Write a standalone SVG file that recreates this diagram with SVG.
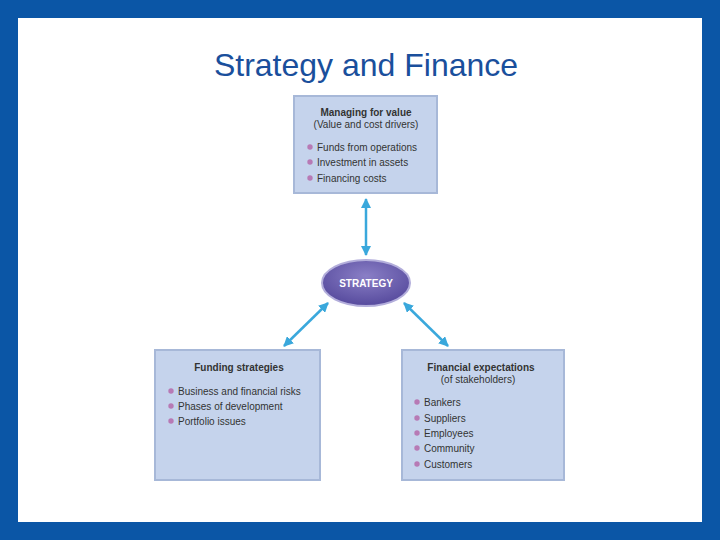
<svg xmlns="http://www.w3.org/2000/svg" width="720" height="540" viewBox="0 0 720 540">
<style>
.box{fill:#c5d3ec;stroke:#a7b8d8;stroke-width:2}
.t{font-family:"Liberation Sans",Arial,sans-serif;font-size:10px;fill:#333}
.b{font-weight:bold}
.dot{fill:#b77ab5}
.arr{stroke:#3aa8dc;stroke-width:2.5;fill:none;marker-start:url(#m);marker-end:url(#m)}
</style>
<defs>
<marker id="m" viewBox="0 0 10 10" refX="9" refY="5" markerWidth="4" markerHeight="4" orient="auto-start-reverse" markerUnits="strokeWidth"><path d="M0,0L10,5L0,10z" fill="#3aa8dc"/></marker>
<radialGradient id="eg" cx="0.5" cy="0.35" r="0.6"><stop offset="0" stop-color="#8a7fc6"/><stop offset="1" stop-color="#5a4ea0"/></radialGradient>
</defs>
<rect width="720" height="540" fill="#0b56a6"/>
<rect x="18" y="18" width="684" height="504" fill="#fff"/>
<text x="366" y="76" text-anchor="middle" font-family="Liberation Sans,Arial,sans-serif" font-size="32" fill="#1a4f9c">Strategy and Finance</text>
<g id="connectors">
<line class="arr" x1="366" y1="199" x2="366" y2="255"/>
<line class="arr" x1="328" y1="303" x2="284" y2="346"/>
<line class="arr" x1="404" y1="303" x2="448" y2="346"/>
</g>
<g id="managing">
<rect class="box" x="294" y="96" width="143" height="97"/>
<text class="t b" x="366" y="116" text-anchor="middle">Managing for value</text>
<text class="t" x="366" y="128" text-anchor="middle">(Value and cost drivers)</text>
<circle class="dot" cx="310" cy="147" r="2.7"/><text class="t" x="317" y="151">Funds from operations</text>
<circle class="dot" cx="310" cy="162" r="2.7"/><text class="t" x="317" y="166">Investment in assets</text>
<circle class="dot" cx="310" cy="178" r="2.7"/><text class="t" x="317" y="182">Financing costs</text>
</g>
<g id="strategy">
<ellipse cx="366" cy="283" rx="44" ry="23" fill="url(#eg)" stroke="#b3aedb" stroke-width="2"/>
<text class="t b" x="366" y="287" text-anchor="middle" fill="#fff" style="fill:#fff">STRATEGY</text>
</g>
<g id="funding">
<rect class="box" x="155" y="350" width="165" height="130"/>
<text class="t b" x="239" y="371" text-anchor="middle">Funding strategies</text>
<circle class="dot" cx="171" cy="391" r="2.7"/><text class="t" x="178" y="395">Business and financial risks</text>
<circle class="dot" cx="171" cy="406" r="2.7"/><text class="t" x="178" y="410">Phases of development</text>
<circle class="dot" cx="171" cy="421" r="2.7"/><text class="t" x="178" y="425">Portfolio issues</text>
</g>
<g id="expectations">
<rect class="box" x="402" y="350" width="162" height="130"/>
<text class="t b" x="481" y="371" text-anchor="middle">Financial expectations</text>
<text class="t" x="478" y="383" text-anchor="middle">(of stakeholders)</text>
<circle class="dot" cx="417" cy="402" r="2.7"/><text class="t" x="424" y="406">Bankers</text>
<circle class="dot" cx="417" cy="418" r="2.7"/><text class="t" x="424" y="422">Suppliers</text>
<circle class="dot" cx="417" cy="433" r="2.7"/><text class="t" x="424" y="437">Employees</text>
<circle class="dot" cx="417" cy="448" r="2.7"/><text class="t" x="424" y="452">Community</text>
<circle class="dot" cx="417" cy="464" r="2.7"/><text class="t" x="424" y="468">Customers</text>
</g>
</svg>
